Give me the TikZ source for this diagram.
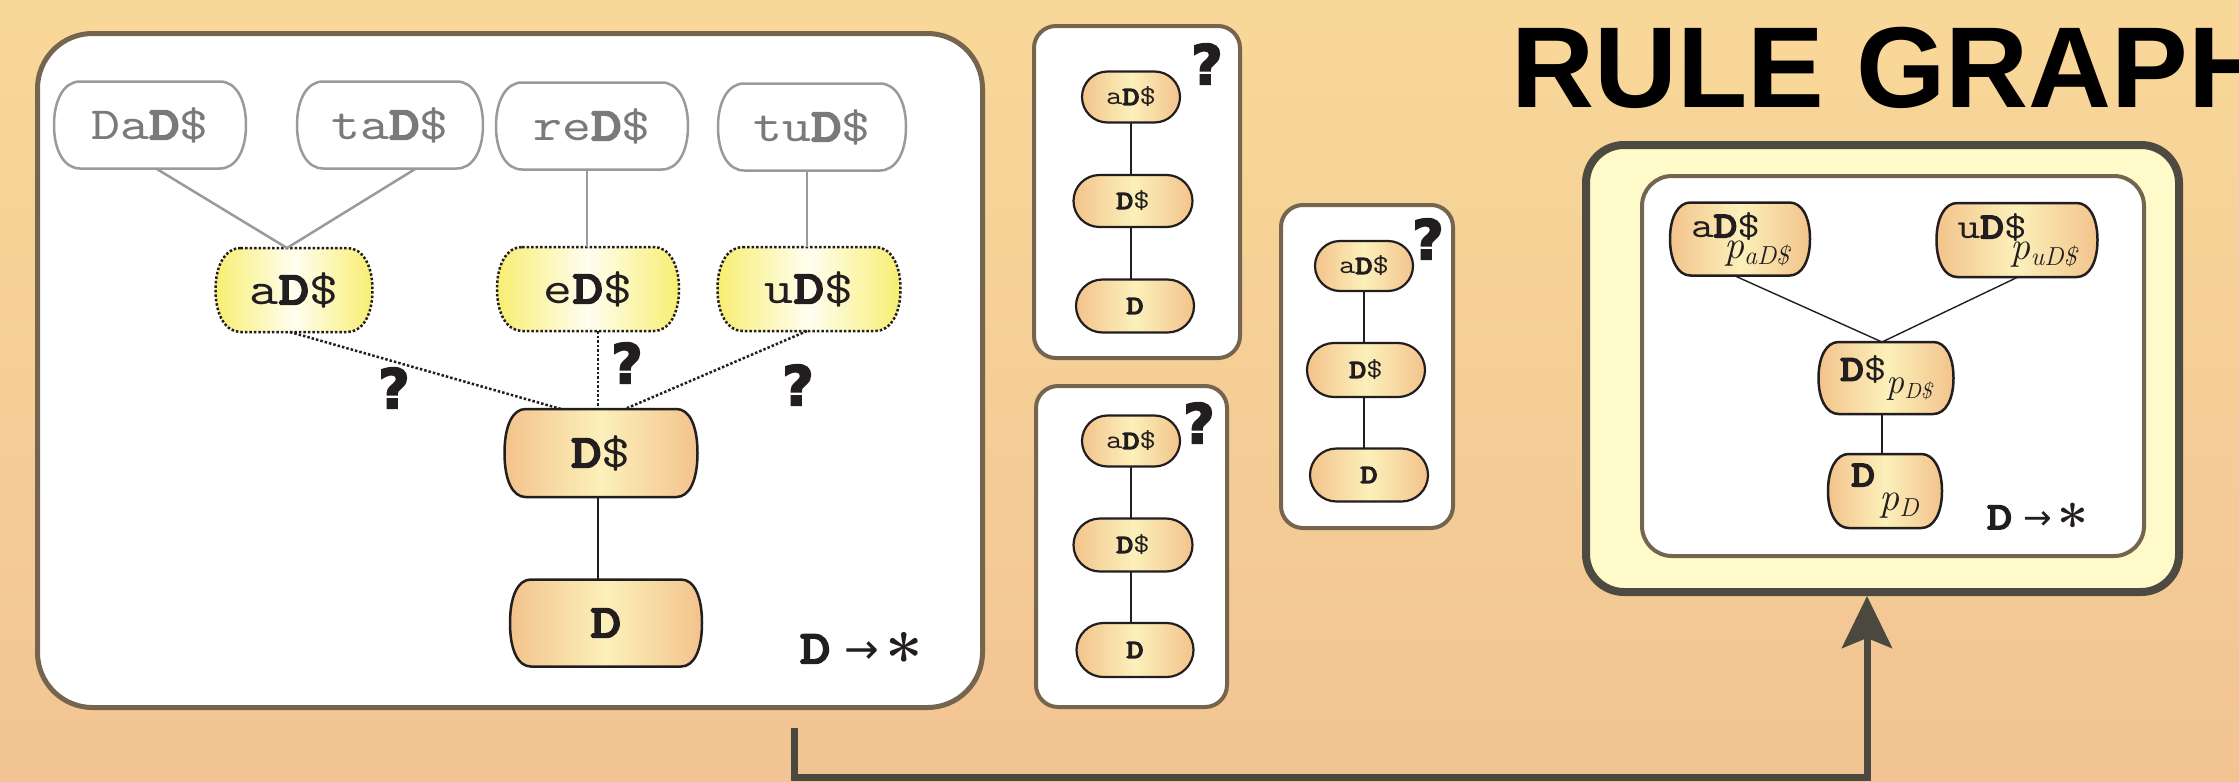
\documentclass[tikz,border=0pt]{standalone}
\usepackage{fontspec}
\usetikzlibrary{arrows.meta}

\newfontfamily\ttx{lmmono10-regular}[Extension=.otf, FakeStretch=1.2]
\newfontfamily\ttxb{lmmono10-regular}[Extension=.otf, FakeStretch=1.25, FakeBold=5]
\newfontfamily\titlefont{Liberation Sans}
\newfontfamily\qfont{DejaVu Sans}[FakeBold=3]
\newfontfamily\arrowfont{DejaVu Sans}

\newcommand\BD{{\ttxb D}}
\newcommand\ttbig{\ttx\fontsize{46}{50}\selectfont}
\newcommand\ttmid{\ttx\fontsize{36}{40}\selectfont}
\newcommand\ttlittle{\ttx\fontsize{26}{30}\selectfont}
% probability label: italic p with a lowered italic index
\newcommand\prob[4]{{\rmfamily\itshape\fontsize{#4}{#4}\selectfont p\raisebox{-#2}{\fontsize{#3}{#3}\selectfont #1}}}
% "D -> *" rule label
\newcommand\rulelabel[1]{{\ttx\fontsize{#1}{#1}\selectfont\BD}\hspace{0.3em}%
  \raisebox{0.0em}{\arrowfont\fontsize{0.9em}{1em}\selectfont →}\hspace{0.14em}%
  \raisebox{-0.42em}{\rmfamily\bfseries\fontsize{1.45em}{1em}\selectfont *}}

\definecolor{bgtop}{HTML}{F8D899}
\definecolor{bgbot}{HTML}{F2C493}
\definecolor{boxedge}{HTML}{75654F}
\definecolor{darkedge}{HTML}{4D4A42}
\definecolor{paleyellow}{HTML}{FFFACA}
\definecolor{nodeorange}{HTML}{F3C38C}
\definecolor{nodepale}{HTML}{FCF0BA}
\definecolor{nodeyellow}{HTML}{F8EE72}
\definecolor{nodewhite}{HTML}{FFFEF0}
\definecolor{ink}{HTML}{221E1F}
\definecolor{grayedge}{HTML}{9A9A9A}
\definecolor{graytext}{HTML}{7A7A7A}
\definecolor{flow}{HTML}{4B4840}

% A pill whose flat top and bottom end in elliptic sides
\makeatletter
\def\barrelc{0.3}
\def\barrelk{0.6}
\pgfdeclareshape{barrel}{%
  \inheritsavedanchors[from=rectangle]%
  \inheritanchorborder[from=rectangle]%
  \inheritanchor[from=rectangle]{center}%
  \inheritanchor[from=rectangle]{north}%
  \inheritanchor[from=rectangle]{south}%
  \inheritanchor[from=rectangle]{east}%
  \inheritanchor[from=rectangle]{west}%
  \inheritanchor[from=rectangle]{north east}%
  \inheritanchor[from=rectangle]{north west}%
  \inheritanchor[from=rectangle]{south east}%
  \inheritanchor[from=rectangle]{south west}%
  \inheritanchor[from=rectangle]{base}%
  \inheritanchor[from=rectangle]{mid}%
  \backgroundpath{%
    \southwest \edef\bx@l{\the\pgf@x}\edef\bx@b{\the\pgf@y}%
    \northeast \edef\bx@r{\the\pgf@x}\edef\bx@t{\the\pgf@y}%
    \pgfmathsetmacro\bx@h{\bx@t-\bx@b}%
    \pgfmathsetmacro\bx@c{\barrelc*\bx@h}%
    \pgfmathsetmacro\bx@m{0.5*(\bx@t+\bx@b)}%
    \pgfmathsetmacro\bx@kx{\barrelk*\bx@c}%
    \pgfmathsetmacro\bx@ky{\barrelk*0.5*\bx@h}%
    \pgfmathsetmacro\bx@L{\bx@l+\bx@c}%
    \pgfmathsetmacro\bx@R{\bx@r-\bx@c}%
    \pgfmathsetmacro\bx@Lk{\bx@L-\bx@kx}%
    \pgfmathsetmacro\bx@Rk{\bx@R+\bx@kx}%
    \pgfmathsetmacro\bx@mu{\bx@m+\bx@ky}%
    \pgfmathsetmacro\bx@md{\bx@m-\bx@ky}%
    \pgfpathmoveto{\pgfqpoint{\bx@L pt}{\bx@t}}%
    \pgfpathlineto{\pgfqpoint{\bx@R pt}{\bx@t}}%
    \pgfpathcurveto{\pgfqpoint{\bx@Rk pt}{\bx@t}}{\pgfqpoint{\bx@r}{\bx@mu pt}}{\pgfqpoint{\bx@r}{\bx@m pt}}%
    \pgfpathcurveto{\pgfqpoint{\bx@r}{\bx@md pt}}{\pgfqpoint{\bx@Rk pt}{\bx@b}}{\pgfqpoint{\bx@R pt}{\bx@b}}%
    \pgfpathlineto{\pgfqpoint{\bx@L pt}{\bx@b}}%
    \pgfpathcurveto{\pgfqpoint{\bx@Lk pt}{\bx@b}}{\pgfqpoint{\bx@l}{\bx@md pt}}{\pgfqpoint{\bx@l}{\bx@m pt}}%
    \pgfpathcurveto{\pgfqpoint{\bx@l}{\bx@mu pt}}{\pgfqpoint{\bx@Lk pt}{\bx@t}}{\pgfqpoint{\bx@L pt}{\bx@t}}%
    \pgfpathclose
  }%
}
\makeatother

\tikzset{
  barrel c/.code={\def\barrelc{#1}},
  barrel k/.code={\def\barrelk{#1}},
  panel/.style={draw=boxedge, fill=white, rounded corners=22pt, line width=4pt, inner sep=0pt},
  pill/.style={shape=barrel, inner sep=0pt, outer sep=0pt, draw=ink, line width=2.5pt,
    left color=nodeorange, right color=nodeorange, middle color=nodepale, text=ink},
  bignode/.style={pill, barrel c=0.24, barrel k=0.62, minimum height=88pt, font=\ttbig},
  graynode/.style={shape=barrel, inner sep=0pt, outer sep=0pt, barrel c=0.3, barrel k=0.6,
    draw=grayedge, line width=2.5pt, fill=white, text=graytext, minimum height=87pt, font=\ttbig},
  guessnode/.style={shape=barrel, inner sep=0pt, outer sep=0pt, barrel c=0.3, barrel k=0.6,
    draw=ink, line width=2.5pt, dash pattern=on 2.5pt off 2pt,
    left color=nodeyellow, right color=nodeyellow, middle color=nodewhite, text=ink,
    minimum height=84pt, font=\ttbig},
  smallnode/.style={pill, barrel c=0.5, barrel k=0.5523, line width=2.2pt, minimum height=52pt, font=\ttlittle},
  rulenode/.style={pill, barrel c=0.28, barrel k=0.6, minimum height=73pt, font=\ttmid, align=left},
  grayline/.style={draw=grayedge, line width=2.5pt},
  dotline/.style={draw=ink, line width=2.5pt, dash pattern=on 2.5pt off 2pt},
  thinline/.style={draw=ink, line width=1.6pt},
  qmark/.style={inner sep=0pt, text=ink, font=\qfont\bfseries\fontsize{55}{55}\selectfont},
  flowline/.style={draw=flow, line width=7pt, -{Stealth[length=52pt, width=50pt, inset=10pt]}},
}

\begin{document}
\begin{tikzpicture}[x=1pt, y=-1pt]
\useasboundingbox (0,0) rectangle (2239,782);
\clip (0,0) rectangle (2239,782);
\shade[top color=bgtop, bottom color=bgbot] (0,0) rectangle (2239,782);

% panels
\node[panel, line width=5pt, rounded corners=55pt, minimum width=945pt, minimum height=674pt] (left) at (510,370.5) {};
\node[panel, minimum width=206pt, minimum height=332pt] (boxA) at (1137,192) {};
\node[panel, minimum width=191pt, minimum height=321pt] (boxB) at (1131.5,546.5) {};
\node[panel, minimum width=172pt, minimum height=323pt] (boxC) at (1367,366.5) {};
\node[draw=darkedge, fill=paleyellow, line width=8pt, rounded corners=38pt, inner sep=0pt,
      minimum width=593pt, minimum height=447pt] (rulebox) at (1882.5,368.5) {};
\node[panel, rounded corners=30pt, minimum width=502pt, minimum height=380pt] (rulein) at (1893,366) {};

% title
\node[anchor=base west, inner sep=0pt, text=black, font=\titlefont\bfseries\fontsize{115}{115}\selectfont] (title) at (1511,107) {RULE GRAPH};

% left panel: candidate graph
\node[graynode, minimum width=192pt] (DaD) at (150,125) {Da\BD\$};
\node[graynode, minimum width=186pt] (taD) at (390,125) {ta\BD\$};
\node[graynode, minimum width=192pt] (reD) at (592,126) {re\BD\$};
\node[graynode, minimum width=188pt] (tuD) at (812,127) {tu\BD\$};
\node[guessnode, minimum width=157pt] (aD) at (294,290) {a\BD\$};
\node[guessnode, minimum width=182pt] (eD) at (588,289) {e\BD\$};
\node[guessnode, minimum width=183pt] (uD) at (809,289) {u\BD\$};
\node[bignode, minimum width=193pt] (Ds) at (601,453) {\BD\$};
\node[bignode, minimum width=192pt, minimum height=87pt] (D) at (606,623) {\BD};

\draw[grayline] ([xshift=6pt]DaD.south) -- ([xshift=-7pt]aD.north);
\draw[grayline] ([xshift=26pt]taD.south) -- ([xshift=-7pt]aD.north);
\draw[grayline] ([xshift=-5pt]reD.south) -- ([xshift=-1pt]eD.north);
\draw[grayline] ([xshift=-5pt]tuD.south) -- ([xshift=-2pt]uD.north);
\draw[dotline] ([xshift=-4pt]aD.south) -- ([xshift=-40pt]Ds.north);
\draw[dotline] ([xshift=10pt]eD.south) -- ([xshift=-3pt]Ds.north);
\draw[dotline] ([xshift=-2pt]uD.south) -- ([xshift=24pt]Ds.north);
\draw[thinline] ([xshift=-3pt]Ds.south) -- ([xshift=-8pt]D.north);

\node[qmark] (q1) at (394,388) {?};
\node[qmark] (q2) at (627,363) {?};
\node[qmark] (q3) at (798,385) {?};

\node[anchor=base west, inner sep=0pt, text=ink, font=\fontsize{46}{46}\selectfont] (ruleL) at (800,663) {\rulelabel{46}};

% middle panels: single chains
\node[smallnode, minimum width=98pt, minimum height=51pt] (aDA) at (1131,97) {a\BD\$};
\node[smallnode, minimum width=119pt] (DsA) at (1133,201) {\BD\$};
\node[smallnode, minimum width=118pt, minimum height=53pt] (DA) at (1135,306) {\BD};
\draw[thinline] (aDA.south) -- (aDA.south |- DsA.north);
\draw[thinline] (aDA.south |- DsA.south) -- (aDA.south |- DA.north);
\node[qmark] (qA) at (1207,64) {?};

\node[smallnode, minimum width=98pt, minimum height=51pt] (aDB) at (1131,441) {a\BD\$};
\node[smallnode, minimum width=119pt, minimum height=53pt] (DsB) at (1133,545) {\BD\$};
\node[smallnode, minimum width=117pt, minimum height=54pt] (DB) at (1135,650) {\BD};
\draw[thinline] (aDB.south) -- (aDB.south |- DsB.north);
\draw[thinline] (aDB.south |- DsB.south) -- (aDB.south |- DB.north);
\node[qmark] (qB) at (1199,423) {?};

\node[smallnode, minimum width=98pt, minimum height=50pt] (aDC) at (1364,266) {a\BD\$};
\node[smallnode, minimum width=118pt, minimum height=54pt] (DsC) at (1366,370) {\BD\$};
\node[smallnode, minimum width=118pt, minimum height=53pt] (DC) at (1369,475) {\BD};
\draw[thinline] (aDC.south) -- (aDC.south |- DsC.north);
\draw[thinline] (aDC.south |- DsC.south) -- (aDC.south |- DC.north);
\node[qmark] (qC) at (1428,239) {?};

% rule graph with probabilities
\node[rulenode, minimum width=140pt] (aDr) at (1740,239)
  {a\BD\$\\[-19pt]\hspace*{33pt}\prob{aD\$}{6pt}{26}{40}};
\node[rulenode, minimum width=161pt, minimum height=74pt] (uDr) at (2017,240)
  {u\BD\$\\[-19pt]\hspace*{53pt}\prob{uD\$}{6pt}{26}{40}};
\node[rulenode, minimum width=135pt, minimum height=72pt] (Dsr) at (1886,378)
  {\BD\$\raisebox{-13pt}{\prob{D\$}{5pt}{22}{36}}};
\node[rulenode, minimum width=114pt, minimum height=74pt] (Dr) at (1885,491)
  {\BD\\[-16pt]\hspace*{28pt}\prob{D}{6pt}{26}{40}};

\draw[thinline, line width=1.4pt] ([xshift=-6pt]aDr.south) -- ([xshift=-4pt]Dsr.north);
\draw[thinline, line width=1.4pt] ([xshift=1pt]uDr.south) -- ([xshift=-4pt]Dsr.north);
\draw[thinline, line width=1.4pt] ([xshift=-4pt]Dsr.south) -- ([xshift=-3pt]Dr.north);

\node[anchor=base west, inner sep=0pt, text=ink, font=\fontsize{38}{38}\selectfont] (ruleR) at (1987,529) {\rulelabel{38}};

% flow from the candidate graph to the rule graph
\coordinate (from) at (794,728);
\coordinate (turn) at (1867,777);
\draw[flowline] (from) |- (turn) -- (turn |- rulebox.south);
\end{tikzpicture}
\end{document}
